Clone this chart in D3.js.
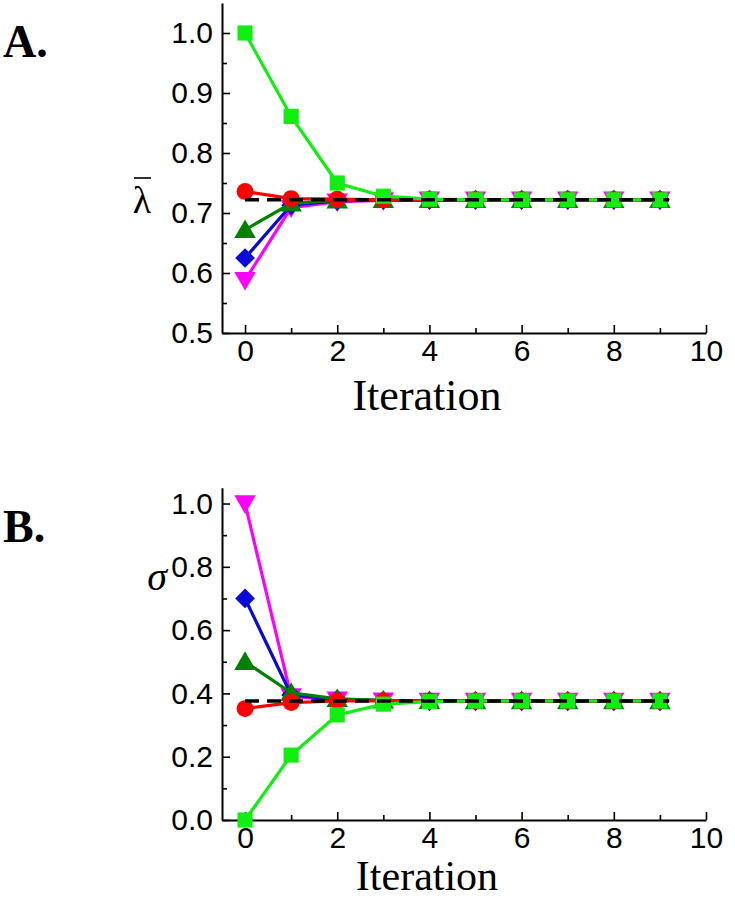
<!DOCTYPE html>
<html>
<head>
<meta charset="utf-8">
<script src="https://cdnjs.cloudflare.com/ajax/libs/d3/7.8.5/d3.min.js"></script>
<style>
  body { margin: 0; background: #fff; }
  svg { display: block; }
</style>
</head>
<body>
<div id="chart"></div>
<script>
// ---- data ----
const iterations = [0, 1, 2, 3, 4, 5, 6, 7, 8, 9];

// panel A: mean lambda
const lamGreen   = [1.000, 0.861, 0.750, 0.728, 0.723, 0.722, 0.722, 0.722, 0.722, 0.722];
const lamRed     = [0.736, 0.724, 0.723, 0.722, 0.722, 0.722, 0.722, 0.722, 0.722, 0.722];
const lamDkGreen = [0.672, 0.716, 0.721, 0.722, 0.722, 0.722, 0.722, 0.722, 0.722, 0.722];
const lamBlue    = [0.625, 0.713, 0.720, 0.722, 0.722, 0.722, 0.722, 0.722, 0.722, 0.722];
const lamMagenta = [0.588, 0.709, 0.719, 0.721, 0.722, 0.722, 0.722, 0.722, 0.722, 0.722];
const lamLimit = 0.722;

// panel B: sigma
const sigGreen   = [0.000, 0.205, 0.332, 0.366, 0.374, 0.376, 0.376, 0.376, 0.376, 0.376];
const sigRed     = [0.352, 0.371, 0.376, 0.376, 0.376, 0.376, 0.376, 0.376, 0.376, 0.376];
const sigDkGreen = [0.500, 0.402, 0.383, 0.378, 0.377, 0.376, 0.376, 0.376, 0.376, 0.376];
const sigBlue    = [0.700, 0.395, 0.381, 0.377, 0.376, 0.376, 0.376, 0.376, 0.376, 0.376];
const sigMagenta = [1.000, 0.390, 0.380, 0.377, 0.376, 0.376, 0.376, 0.376, 0.376, 0.376];
const sigLimit = 0.376;

const xTicks = [0, 2, 4, 6, 8, 10];
const xMinor = [1, 3, 5, 7, 9];
const lamTicks = [0.5, 0.6, 0.7, 0.8, 0.9, 1.0];
const lamMinor = [0.55, 0.65, 0.75, 0.85, 0.95];
const sigTicks = [0.0, 0.2, 0.4, 0.6, 0.8, 1.0];
const sigMinor = [0.1, 0.3, 0.5, 0.7, 0.9];

const width = 735, height = 899;

const svg = d3.select('#chart').append('svg')
  .attr('width', width)
  .attr('height', height);

// series styles, drawn bottom to top
const styles = [
  { key: 'magenta', color: '#ff00ff', symbol: d3.symbolTriangle, size: 200, rot: 180 },
  { key: 'blue',    color: '#0a0ad8', symbol: d3.symbolSquare,   size: 195, rot: 45 },
  { key: 'dkgreen', color: '#008000', symbol: d3.symbolTriangle, size: 200, rot: 0 },
  { key: 'red',     color: '#ff0000', symbol: d3.symbolCircle,   size: 225, rot: 0 },
  { key: 'green',   color: '#11ee11', symbol: d3.symbolSquare,   size: 230, rot: 0 }
];

function panel(opts) {
  const x = d3.scaleLinear().domain([-0.5, 10]).range([222, 706]);
  const y = d3.scaleLinear().domain(opts.yDomain).range(opts.yRange);
  const g = svg.append('g');
  const y0 = opts.yRange[0];

  // axes (ticks point into the plot)
  g.append('g').attr('transform', `translate(0,${y0})`)
    .call(d3.axisBottom(x).tickValues(xTicks).tickSizeInner(-8).tickSizeOuter(0).tickPadding(7));
  g.append('g').attr('transform', `translate(0,${y0})`)
    .call(d3.axisBottom(x).tickValues(xMinor).tickSizeInner(-5).tickSizeOuter(0).tickFormat(''))
    .select('.domain').remove();
  g.append('g').attr('transform', 'translate(222,0)')
    .call(d3.axisLeft(y).tickValues(opts.ticks).tickSizeInner(-8).tickSizeOuter(0)
      .tickPadding(9).tickFormat(d3.format('.1f')));
  g.append('g').attr('transform', 'translate(222,0)')
    .call(d3.axisLeft(y).tickValues(opts.minor).tickSizeInner(-5).tickSizeOuter(0).tickFormat(''))
    .select('.domain').remove();

  g.selectAll('.domain').attr('stroke', '#000').attr('stroke-width', 2);
  g.selectAll('.tick line').attr('stroke', '#000').attr('stroke-width', 1.6);
  g.selectAll('.tick text')
    .attr('font-family', 'Liberation Sans, Arial, sans-serif')
    .attr('font-size', 30)
    .attr('fill', '#000');

  const line = d3.line().x((d, i) => x(iterations[i])).y(d => y(d));

  styles.forEach(s => {
    const vals = opts.series[s.key];
    const sg = g.append('g');
    sg.append('path')
      .attr('d', line(vals))
      .attr('fill', 'none')
      .attr('stroke', s.color)
      .attr('stroke-width', 3.2);
    sg.selectAll('path.mark').data(vals).enter()
      .append('path')
      .attr('class', 'mark')
      .attr('d', d3.symbol().type(s.symbol).size(s.size))
      .attr('transform', (d, i) => {
        // shift triangles so the centroid sits on the value
        let dy = 0;
        if (s.symbol === d3.symbolTriangle) dy = s.rot ? -2 : 2;
        return `translate(${x(iterations[i])},${y(d) + dy}) rotate(${s.rot})`;
      })
      .attr('fill', s.color);
  });

  // converged value, dashed
  g.append('line')
    .attr('x1', x(0)).attr('x2', x(9.2))
    .attr('y1', y(opts.limit)).attr('y2', y(opts.limit))
    .attr('stroke', '#000')
    .attr('stroke-width', 3.5)
    .attr('stroke-dasharray', '14,8');

  // x label
  g.append('text')
    .attr('x', 427).attr('y', opts.xLabelY)
    .attr('text-anchor', 'middle')
    .attr('font-family', 'Liberation Serif, Times New Roman, serif')
    .attr('font-size', opts.xLabelSize)
    .text('Iteration');

  // panel letter
  g.append('text')
    .attr('x', 3).attr('y', opts.letterY)
    .attr('font-family', 'Liberation Serif, Times New Roman, serif')
    .attr('font-weight', 'bold')
    .attr('font-size', 46)
    .text(opts.letter);

  return g;
}

const gA = panel({
  yDomain: [0.5, 1.05], yRange: [333, 3],
  ticks: lamTicks, minor: lamMinor, limit: lamLimit,
  series: { green: lamGreen, red: lamRed, dkgreen: lamDkGreen, blue: lamBlue, magenta: lamMagenta },
  xLabelY: 410, xLabelSize: 44, letter: 'A.', letterY: 57
});

const gB = panel({
  yDomain: [0, 1.05], yRange: [820, 487.7],
  ticks: sigTicks, minor: sigMinor, limit: sigLimit,
  series: { green: sigGreen, red: sigRed, dkgreen: sigDkGreen, blue: sigBlue, magenta: sigMagenta },
  xLabelY: 890, xLabelSize: 42, letter: 'B.', letterY: 542
});

// y labels: lambda-bar and sigma
gA.append('text')
  .attr('x', 142).attr('y', 213)
  .attr('text-anchor', 'middle')
  .attr('font-family', 'Liberation Serif, Times New Roman, serif')
  .attr('font-size', 38)
  .text('λ');
gA.append('line')
  .attr('x1', 134).attr('x2', 151)
  .attr('y1', 178).attr('y2', 178)
  .attr('stroke', '#000').attr('stroke-width', 1.6);

gB.append('text')
  .attr('x', 157).attr('y', 590)
  .attr('text-anchor', 'middle')
  .attr('font-family', 'Liberation Serif, Times New Roman, serif')
  .attr('font-style', 'italic')
  .attr('font-size', 40)
  .text('σ');
</script>
</body>
</html>
